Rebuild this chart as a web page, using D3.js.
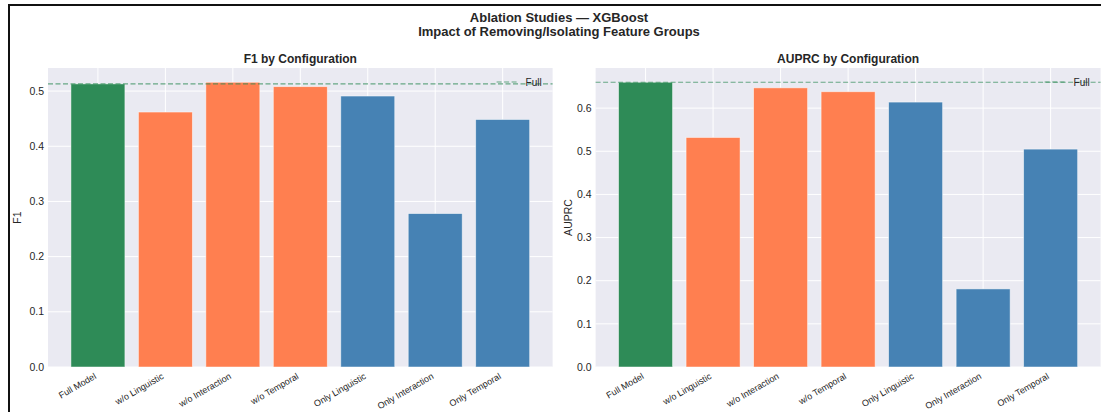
<!DOCTYPE html>
<html>
<head>
<meta charset="utf-8">
<script src="https://cdn.jsdelivr.net/npm/d3@7"></script>
<style>
  body { margin: 0; background: #fff; }
  text { font-family: "Liberation Sans", Arial, sans-serif; fill: #262626; }
</style>
</head>
<body>
<svg id="chart" width="1101" height="412"></svg>
<script>
// data
var configs = ['Full Model', 'w/o Linguistic', 'w/o Interaction', 'w/o Temporal',
	'Only Linguistic', 'Only Interaction', 'Only Temporal'];
var groups = ['full', 'without', 'without', 'without', 'only', 'only', 'only'];
var f1Values = [0.513, 0.462, 0.516, 0.508, 0.491, 0.278, 0.4485];
var auprcValues = [0.660, 0.532, 0.647, 0.638, 0.614, 0.181, 0.505];
var f1Ticks = [0.0, 0.1, 0.2, 0.3, 0.4, 0.5];
var auprcTicks = [0.0, 0.1, 0.2, 0.3, 0.4, 0.5, 0.6];

var colors = {full: '#2E8B57', without: '#FF7F50', only: '#4682B4'};

var svg = d3.select('#chart');

// figure frame (cropped screenshot border)
svg.append('path')
	.attr('d', 'M9,412 L9,5 L1101,5')
	.attr('fill', 'none')
	.attr('stroke', '#111')
	.attr('stroke-width', 2);

svg.append('text')
	.attr('x', 559).attr('y', 22)
	.attr('text-anchor', 'middle')
	.attr('font-size', 13).attr('font-weight', 'bold')
	.text('Ablation Studies — XGBoost');
svg.append('text')
	.attr('x', 559).attr('y', 36)
	.attr('text-anchor', 'middle')
	.attr('font-size', 13).attr('font-weight', 'bold')
	.text('Impact of Removing/Isolating Feature Groups');

function panel(opts) {
	var left = opts.left, right = opts.right, top = 68, bottom = 367;
	var width = right - left, height = bottom - top;

	var x = d3.scaleBand().domain(configs).range([0, width])
		.paddingInner(0.2).paddingOuter(0.34);
	var y = d3.scaleLinear()
		.domain([0, d3.max(opts.values) * 1.05])
		.range([height, 0]);

	var g = svg.append('g')
		.attr('transform', 'translate(' + left + ',' + top + ')');

	g.append('rect')
		.attr('width', width).attr('height', height)
		.attr('fill', '#EAEAF2');

	// grid
	g.selectAll('.hgrid')
		.data(opts.ticks)
		.enter().append('line')
		.attr('x1', 0).attr('x2', width)
		.attr('y1', function(d) { return y(d); })
		.attr('y2', function(d) { return y(d); })
		.attr('stroke', '#fff').attr('stroke-width', 1);
	g.selectAll('.vgrid')
		.data(configs)
		.enter().append('line')
		.attr('x1', function(d) { return x(d) + x.bandwidth() / 2; })
		.attr('x2', function(d) { return x(d) + x.bandwidth() / 2; })
		.attr('y1', 0).attr('y2', height)
		.attr('stroke', '#fff').attr('stroke-width', 1);

	// bars
	g.selectAll('.bar')
		.data(opts.values)
		.enter().append('rect')
		.attr('x', function(d, i) { return x(configs[i]); })
		.attr('y', function(d) { return y(d); })
		.attr('width', x.bandwidth())
		.attr('height', function(d) { return height - y(d); })
		.attr('fill', function(d, i) { return colors[groups[i]]; })
		.attr('stroke', '#fff').attr('stroke-opacity', 0.6).attr('stroke-width', 0.8);

	// full model reference line
	var fullY = y(opts.values[0]);
	g.append('line')
		.attr('x1', 0).attr('x2', width)
		.attr('y1', fullY).attr('y2', fullY)
		.attr('stroke', '#2E8B57').attr('stroke-opacity', 0.7)
		.attr('stroke-width', 1.2)
		.attr('stroke-dasharray', '5,2.5');

	// legend
	g.append('line')
		.attr('x1', width - 56).attr('x2', width - 36)
		.attr('y1', 14).attr('y2', 14)
		.attr('stroke', '#2E8B57').attr('stroke-opacity', 0.7)
		.attr('stroke-width', 1.2)
		.attr('stroke-dasharray', '5,2.5');
	g.append('text')
		.attr('x', width - 27).attr('y', 18)
		.attr('font-size', 10)
		.text('Full');

	// y ticks
	g.selectAll('.ytick')
		.data(opts.ticks)
		.enter().append('text')
		.attr('x', -4)
		.attr('y', function(d) { return y(d); })
		.attr('dy', '0.35em')
		.attr('text-anchor', 'end')
		.attr('font-size', 10.5)
		.text(function(d) { return d3.format('.1f')(d); });

	// x ticks
	g.selectAll('.xtick')
		.data(configs)
		.enter().append('text')
		.attr('transform', function(d) {
			return 'translate(' + (x(d) + x.bandwidth() / 2 - 1) + ',' + (height + 11) + ') rotate(-30)';
		})
		.attr('text-anchor', 'end')
		.attr('font-size', 9)
		.attr('fill', '#333')
		.text(function(d) { return d; });

	// titles
	g.append('text')
		.attr('x', width / 2).attr('y', -5)
		.attr('text-anchor', 'middle')
		.attr('font-size', 12).attr('font-weight', 'bold')
		.text(opts.title);
	g.append('text')
		.attr('transform', 'translate(' + opts.labelX + ',' + (height / 2) + ') rotate(-90)')
		.attr('text-anchor', 'middle')
		.attr('font-size', 10.5)
		.text(opts.ylabel);
}

panel({left: 48, right: 552.6, values: f1Values, ticks: f1Ticks,
	title: 'F1 by Configuration', ylabel: 'F1', labelX: -27});
panel({left: 595.6, right: 1100.6, values: auprcValues, ticks: auprcTicks,
	title: 'AUPRC by Configuration', ylabel: 'AUPRC', labelX: -24});
</script>
</body>
</html>
